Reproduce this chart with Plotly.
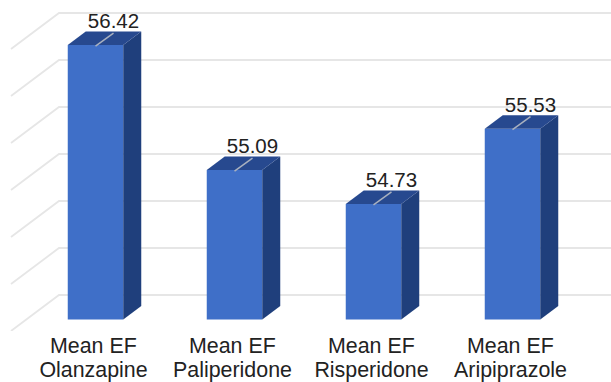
import plotly.graph_objects as go

# Mean ejection fraction per antipsychotic
drugs = ["Olanzapine", "Paliperidone", "Risperidone", "Aripiprazole"]
mean_ef = [56.42, 55.09, 54.73, 55.53]
grid_values = [53.5, 54.0, 54.5, 55.0, 55.5, 56.0, 56.5]
first_line = "Mean EF"

WIDTH, HEIGHT = 611, 382
PLOT_BOTTOM = 331          # pixel row where the plot area ends
PX_PER_UNIT = 94.0         # vertical pixels per EF unit
PX_PER_CAT = 139.0         # horizontal pixels between bars
FIRST_CENTER = 95.5        # pixel column of the first bar centre
FLOOR = grid_values[0]
FLOOR_PX = 319.5           # pixel row of the bar base
LABEL_FONT = dict(family="Liberation Sans", size=21.4, color="#222222")

x_range = [-FIRST_CENTER / PX_PER_CAT, (WIDTH - FIRST_CENTER) / PX_PER_CAT]
y_range = [FLOOR - (PLOT_BOTTOM - FLOOR_PX) / PX_PER_UNIT, FLOOR + FLOOR_PX / PX_PER_UNIT]


def dx(px):
    return px / PX_PER_CAT


def dy(px):
    return px / PX_PER_UNIT


BAR_W = 55.5 / PX_PER_CAT
DEPTH_X, DEPTH_Y = dx(18), dy(13.5)
LABEL_SHIFT = dx(-2)       # category labels sit slightly left of the bar centres

fig = go.Figure()

# Back wall and left wall gridlines of the pseudo-3D box, on the lower y axis
wall_x, wall_y = [], []
for v in grid_values:
    back = v + dy(24.5)
    wall_x += [dx(11) + x_range[0], dx(59) + x_range[0], x_range[1], None]
    wall_y += [v - dy(11.5), back, back, None]
fig.add_trace(go.Scatter(x=wall_x, y=wall_y, mode="lines", hoverinfo="skip", showlegend=False,
                         cliponaxis=False, line=dict(color="#e6e6e6", width=1.8)))

# Front faces, on the overlaying y axis so they hide the gridlines
fig.add_trace(go.Bar(x=list(range(len(drugs))), y=[v - FLOOR for v in mean_ef], base=FLOOR,
                     width=BAR_W, marker=dict(color="#3f6fc8", line=dict(width=0)),
                     yaxis="y2", showlegend=False, hoverinfo="skip"))

# Side and top faces, plus the short leader line, offset from each bar's value
for i, v in enumerate(mean_ef):
    left, right = i - BAR_W / 2, i + BAR_W / 2
    fig.add_trace(go.Scatter(
        x=[right, right + DEPTH_X, right + DEPTH_X, right, right],
        y=[FLOOR, FLOOR + DEPTH_Y, v + DEPTH_Y, v, FLOOR],
        fill="toself", fillcolor="#1f3f7c", mode="none", yaxis="y2",
        showlegend=False, hoverinfo="skip"))
    fig.add_trace(go.Scatter(
        x=[left, left + DEPTH_X, right + DEPTH_X, right, left],
        y=[v, v + DEPTH_Y, v + DEPTH_Y, v, v],
        fill="toself", fillcolor="#27498f", mode="none", yaxis="y2",
        showlegend=False, hoverinfo="skip"))
    fig.add_trace(go.Scatter(
        x=[i, i + DEPTH_X], y=[v - dy(1), v + dy(12)], mode="lines", yaxis="y2",
        line=dict(color="#a9b1bf", width=1.5), showlegend=False, hoverinfo="skip"))

# Value labels above the back edge of each bar top
fig.add_trace(go.Scatter(
    x=[i + DEPTH_X for i in range(len(drugs))],
    y=[v + DEPTH_Y - dy(2) for v in mean_ef],
    mode="text", text=[f"{v:.2f}" for v in mean_ef], textposition="top center",
    textfont=dict(family="Liberation Sans", size=20.5, color="#222222"),
    yaxis="y2", showlegend=False, hoverinfo="skip", cliponaxis=False))

# Upper line of each category label; the drug name is the axis tick label
annotations = [
    dict(x=i + LABEL_SHIFT, y=0, xref="x", yref="paper", yanchor="top", yshift=-2, text=first_line,
         showarrow=False, font=LABEL_FONT, borderpad=0)
    for i in range(len(drugs))
]

fig.update_layout(
    width=WIDTH, height=HEIGHT, autosize=False,
    margin=dict(l=0, r=0, t=0, b=HEIGHT - PLOT_BOTTOM, pad=0, autoexpand=False),
    paper_bgcolor="white", plot_bgcolor="white",
    showlegend=False, annotations=annotations,
    xaxis=dict(range=x_range, tickmode="array", automargin=False,
               tickvals=[i + LABEL_SHIFT for i in range(len(drugs))], ticktext=drugs,
               showgrid=False, zeroline=False, showline=False, ticks="",
               ticklabelstandoff=24, tickfont=LABEL_FONT),
    yaxis=dict(range=y_range, showgrid=False, zeroline=False, showline=False,
               showticklabels=False, ticks=""),
    yaxis2=dict(range=y_range, overlaying="y", showgrid=False, zeroline=False, showline=False,
                showticklabels=False, ticks=""),
)

fig.write_html("out.html", config={"displayModeBar": False})
